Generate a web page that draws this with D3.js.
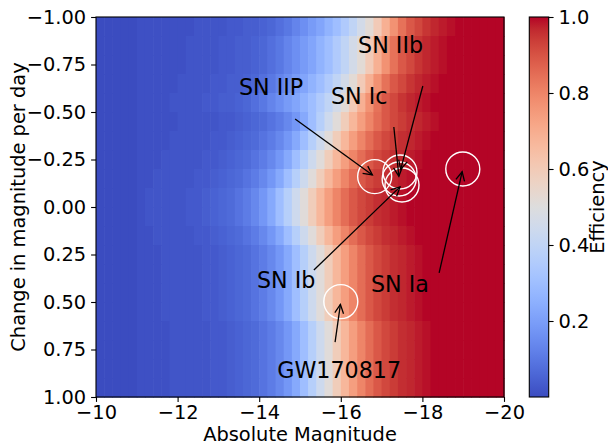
<!DOCTYPE html>
<html><head><meta charset="utf-8">
<script src="https://cdn.jsdelivr.net/npm/d3@7"></script>
<style>body{margin:0;background:#fff}text{font-family:"DejaVu Sans",sans-serif;fill:#000}</style>
</head><body><svg id="c" width="608" height="443"></svg>
<script>
// ---------------- data ----------------
const magEdges = [-10,-10.2,-10.4,-10.6,-10.8,-11,-11.2,-11.4,-11.6,-11.8,-12,-12.2,-12.4,-12.6,-12.8,-13,-13.2,-13.4,-13.6,-13.8,-14,-14.2,-14.4,-14.6,-14.8,-15,-15.2,-15.4,-15.6,-15.8,-16,-16.2,-16.4,-16.6,-16.8,-17,-17.2,-17.4,-17.6,-17.8,-18,-18.2,-18.4,-18.6,-18.8,-19,-19.2,-19.4,-19.6,-19.8,-20];
const rateEdges = [-1,-0.9,-0.8,-0.7,-0.6,-0.5,-0.4,-0.3,-0.2,-0.1,0,0.1,0.2,0.3,0.4,0.5,0.6,0.7,0.8,0.9,1];
const efficiency = [
[0,0,0,0,0,0.01,0.01,0.01,0.01,0.01,0.01,0.01,0.02,0.02,0.02,0.02,0.03,0.03,0.04,0.04,0.05,0.06,0.08,0.1,0.13,0.16,0.19,0.22,0.26,0.3,0.35,0.4,0.46,0.52,0.6,0.69,0.77,0.84,0.89,0.92,0.95,0.97,0.98,0.99,1,1,1,1,1,1],
[0,0,0,0,0,0.01,0.01,0.01,0.01,0.01,0.01,0.02,0.02,0.02,0.02,0.03,0.03,0.04,0.04,0.05,0.06,0.08,0.1,0.13,0.16,0.19,0.22,0.26,0.3,0.35,0.4,0.46,0.52,0.6,0.69,0.77,0.84,0.89,0.92,0.95,0.97,0.98,0.99,1,1,1,1,1,1,1],
[0,0,0,0,0,0.01,0.01,0.01,0.01,0.01,0.01,0.02,0.02,0.02,0.02,0.03,0.03,0.04,0.04,0.05,0.06,0.08,0.1,0.13,0.16,0.19,0.22,0.26,0.3,0.35,0.4,0.46,0.52,0.6,0.69,0.77,0.84,0.89,0.92,0.95,0.97,0.98,0.99,1,1,1,1,1,1,1],
[0,0,0,0,0,0.01,0.01,0.01,0.01,0.01,0.02,0.02,0.02,0.02,0.03,0.03,0.04,0.04,0.05,0.06,0.08,0.1,0.13,0.16,0.19,0.22,0.26,0.3,0.35,0.4,0.46,0.52,0.6,0.69,0.77,0.84,0.89,0.92,0.95,0.97,0.98,0.99,1,1,1,1,1,1,1,1],
[0,0,0,0,0,0.01,0.01,0.01,0.01,0.02,0.02,0.02,0.02,0.03,0.03,0.04,0.04,0.05,0.06,0.08,0.1,0.13,0.16,0.19,0.22,0.26,0.3,0.35,0.4,0.46,0.52,0.6,0.69,0.77,0.84,0.89,0.92,0.95,0.97,0.98,0.99,1,1,1,1,1,1,1,1,1],
[0,0,0,0,0,0.01,0.01,0.01,0.01,0.01,0.02,0.02,0.02,0.02,0.02,0.03,0.03,0.04,0.05,0.06,0.07,0.09,0.11,0.14,0.18,0.23,0.3,0.37,0.44,0.51,0.59,0.67,0.74,0.8,0.85,0.89,0.92,0.94,0.96,0.97,0.98,0.99,1,1,1,1,1,1,1,1],
[0,0,0,0,0,0.01,0.01,0.01,0.01,0.02,0.02,0.02,0.02,0.02,0.03,0.03,0.04,0.05,0.06,0.07,0.09,0.11,0.14,0.18,0.23,0.3,0.37,0.44,0.51,0.59,0.67,0.74,0.8,0.85,0.89,0.92,0.94,0.96,0.97,0.98,0.99,1,1,1,1,1,1,1,1,1],
[0,0,0,0,0,0.01,0.01,0.01,0.02,0.02,0.02,0.02,0.02,0.03,0.03,0.04,0.05,0.06,0.07,0.09,0.11,0.14,0.18,0.23,0.3,0.37,0.44,0.51,0.59,0.67,0.74,0.8,0.85,0.89,0.92,0.94,0.96,0.97,0.98,0.99,1,1,1,1,1,1,1,1,1,1],
[0,0,0,0,0,0.01,0.01,0.02,0.02,0.02,0.02,0.02,0.03,0.03,0.04,0.05,0.06,0.07,0.09,0.11,0.14,0.18,0.23,0.3,0.37,0.44,0.51,0.59,0.67,0.74,0.8,0.85,0.89,0.92,0.94,0.96,0.97,0.98,0.99,1,1,1,1,1,1,1,1,1,1,1],
[0,0,0,0,0,0.01,0.02,0.02,0.02,0.02,0.02,0.03,0.03,0.04,0.05,0.06,0.07,0.09,0.11,0.14,0.18,0.23,0.3,0.37,0.44,0.51,0.59,0.67,0.74,0.8,0.85,0.89,0.92,0.94,0.96,0.97,0.98,0.99,1,1,1,1,1,1,1,1,1,1,1,1],
[0,0,0,0,0,0.01,0.02,0.02,0.02,0.02,0.02,0.03,0.03,0.04,0.05,0.06,0.07,0.09,0.11,0.14,0.18,0.23,0.3,0.37,0.44,0.51,0.59,0.67,0.74,0.8,0.85,0.89,0.92,0.94,0.96,0.97,0.98,0.99,1,1,1,1,1,1,1,1,1,1,1,1],
[0,0,0,0,0,0.01,0.01,0.02,0.02,0.02,0.02,0.02,0.03,0.03,0.04,0.05,0.06,0.07,0.09,0.11,0.14,0.18,0.23,0.3,0.37,0.44,0.51,0.59,0.67,0.74,0.8,0.85,0.89,0.92,0.94,0.96,0.97,0.98,0.99,1,1,1,1,1,1,1,1,1,1,1],
[0,0,0,0,0,0.01,0.01,0.01,0.02,0.02,0.02,0.02,0.02,0.03,0.03,0.04,0.05,0.06,0.07,0.09,0.11,0.14,0.18,0.23,0.3,0.37,0.44,0.51,0.59,0.67,0.74,0.8,0.85,0.89,0.92,0.94,0.96,0.97,0.98,0.99,1,1,1,1,1,1,1,1,1,1],
[0,0,0,0,0,0.01,0.01,0.01,0.02,0.02,0.02,0.02,0.02,0.03,0.03,0.04,0.05,0.06,0.07,0.09,0.11,0.14,0.18,0.23,0.3,0.37,0.44,0.51,0.59,0.67,0.74,0.8,0.85,0.89,0.92,0.94,0.96,0.97,0.98,0.99,1,1,1,1,1,1,1,1,1,1],
[0,0,0,0,0,0.01,0.01,0.01,0.02,0.02,0.02,0.02,0.02,0.03,0.03,0.04,0.05,0.06,0.07,0.09,0.11,0.14,0.18,0.23,0.3,0.37,0.44,0.51,0.59,0.67,0.74,0.8,0.85,0.89,0.92,0.94,0.96,0.97,0.98,0.99,1,1,1,1,1,1,1,1,1,1],
[0,0,0,0,0,0.01,0.01,0.01,0.02,0.02,0.02,0.02,0.02,0.03,0.03,0.04,0.05,0.06,0.07,0.09,0.11,0.14,0.18,0.23,0.3,0.37,0.44,0.51,0.59,0.67,0.74,0.8,0.85,0.89,0.92,0.94,0.96,0.97,0.98,0.99,1,1,1,1,1,1,1,1,1,1],
[0,0,0,0,0,0.01,0.01,0.01,0.01,0.02,0.02,0.02,0.02,0.02,0.03,0.03,0.04,0.05,0.06,0.07,0.09,0.11,0.14,0.18,0.23,0.3,0.37,0.44,0.51,0.59,0.67,0.74,0.8,0.85,0.89,0.92,0.94,0.96,0.97,0.98,0.99,1,1,1,1,1,1,1,1,1],
[0,0,0,0,0,0.01,0.01,0.01,0.01,0.02,0.02,0.02,0.02,0.02,0.03,0.03,0.04,0.05,0.06,0.07,0.09,0.11,0.14,0.18,0.23,0.3,0.37,0.44,0.51,0.59,0.67,0.74,0.8,0.85,0.89,0.92,0.94,0.96,0.97,0.98,0.99,1,1,1,1,1,1,1,1,1],
[0,0,0,0,0,0.01,0.01,0.01,0.01,0.02,0.02,0.02,0.02,0.02,0.03,0.03,0.04,0.05,0.06,0.07,0.09,0.11,0.14,0.18,0.23,0.3,0.37,0.44,0.51,0.59,0.67,0.74,0.8,0.85,0.89,0.92,0.94,0.96,0.97,0.98,0.99,1,1,1,1,1,1,1,1,1],
[0,0,0,0,0,0.01,0.01,0.01,0.01,0.02,0.02,0.02,0.02,0.02,0.03,0.03,0.04,0.05,0.06,0.07,0.09,0.11,0.14,0.18,0.23,0.3,0.37,0.44,0.51,0.59,0.67,0.74,0.8,0.85,0.89,0.92,0.94,0.96,0.97,0.98,0.99,1,1,1,1,1,1,1,1,1]
];
const xTicks = [-10,-12,-14,-16,-18,-20];
const yTicks = [-1,-0.75,-0.5,-0.25,0,0.25,0.5,0.75,1];
const cbTicks = [0.2,0.4,0.6,0.8,1.0];

const eventNames   = ["SN IIP","SN IIb","SN Ic","SN Ib","SN Ia","GW170817"];
const eventMag     = [-16.83,-17.45,-17.43,-17.5,-18.99,-16.0];
const eventRate    = [-0.16,-0.184,-0.147,-0.116,-0.2,0.498];
const labelMag     = [-14.29,-17.22,-16.45,-14.66,-17.45,-15.96];
const labelRate    = [-0.632,-0.853,-0.584,0.384,0.405,0.858];
const arrowFromMag = [-14.88,-18.01,-17.30,-15.34,-18.41,-15.86];
const arrowFromRate= [-0.463,-0.637,-0.421,0.332,0.347,0.711];

// --------------- coolwarm colormap stops ---------------
const cwStops = [[59,76,192],[68,90,204],[77,104,215],[87,117,225],[98,130,234],[108,142,241],[119,154,247],[130,165,251],[141,176,254],[152,185,255],[163,194,255],[174,201,253],[184,208,249],[194,213,244],[204,217,238],[213,219,230],[221,221,221],[229,216,209],[236,211,197],[241,204,185],[245,196,173],[247,187,160],[247,177,148],[247,166,135],[244,154,123],[241,141,111],[236,127,99],[229,112,88],[222,96,77],[213,80,66],[203,62,56],[192,40,47],[180,4,38]];
const cw = d3.scaleLinear().domain(cwStops.map((d,i)=>i/(cwStops.length-1))).range(cwStops.map(c=>`rgb(${c[0]},${c[1]},${c[2]})`)).clamp(true);

const all = efficiency.flat();
const vmin = d3.min(all), vmax = d3.max(all);
const norm = d3.scaleLinear().domain([vmin,vmax]).range([0,1]);
const color = v => cw(norm(v));

const svg = d3.select("#c");
const L=96,R=504,T=17,B=397;
const x = d3.scaleLinear().domain([-10,-20]).range([L,R]);
const y = d3.scaleLinear().domain([-1,1]).range([T,B]);
const fs = 19.4;

// heatmap cells
const cells=[];
efficiency.forEach((row,j)=>row.forEach((v,i)=>cells.push({i,j,v})));
svg.append("g").selectAll("rect").data(cells).join("rect")
  .attr("x",d=>x(magEdges[d.i]))
  .attr("y",d=>y(rateEdges[d.j]))
  .attr("width",d=>x(magEdges[d.i+1])-x(magEdges[d.i])+0.6)
  .attr("height",d=>y(rateEdges[d.j+1])-y(rateEdges[d.j])+0.6)
  .attr("fill",d=>color(d.v));

// circles
svg.append("g").selectAll("circle").data(eventNames).join("circle")
  .attr("cx",(d,i)=>x(eventMag[i])).attr("cy",(d,i)=>y(eventRate[i]))
  .attr("r",17).attr("fill","none").attr("stroke","#fff").attr("stroke-width",1.4);

// arrows
const ag = svg.append("g").attr("stroke","#000").attr("stroke-width",1.3).attr("fill","none");
eventNames.forEach((n,i)=>{
  const sx=x(arrowFromMag[i]), sy=y(arrowFromRate[i]);
  let ex=x(eventMag[i]), ey=y(eventRate[i]);
  const dx=ex-sx, dy=ey-sy, len=Math.hypot(dx,dy), ux=dx/len, uy=dy/len;
  ex-=ux*2.8; ey-=uy*2.8;
  ag.append("line").attr("x1",sx).attr("y1",sy).attr("x2",ex).attr("y2",ey);
  const hl=8.9, hw=4.4;
  const bx=ex-ux*hl, by=ey-uy*hl;
  ag.append("path").attr("d",`M${bx-uy*hw},${by+ux*hw}L${ex},${ey}L${bx+uy*hw},${by-ux*hw}`);
});

// labels
svg.append("g").selectAll("text").data(eventNames).join("text")
  .attr("x",(d,i)=>x(labelMag[i])).attr("y",(d,i)=>y(labelRate[i]))
  .attr("dy","0.36em").attr("text-anchor","middle").style("font-size","22.2px").text(d=>d);

// frame
svg.append("rect").attr("x",L).attr("y",T).attr("width",R-L).attr("height",B-T)
  .attr("fill","none").attr("stroke","#000").attr("stroke-width",1.1);

// axes
const fmtX = d3.format(".0f"), fmtY = d3.format(".2f");
const xa = svg.append("g").attr("transform",`translate(0,${B})`)
  .call(d3.axisBottom(x).tickValues(xTicks).tickSize(4.9).tickPadding(3.2).tickFormat(fmtX));
const ya = svg.append("g").attr("transform",`translate(${L},0)`)
  .call(d3.axisLeft(y).tickValues(yTicks).tickSize(4.9).tickPadding(4.9).tickFormat(fmtY));
[xa,ya].forEach(a=>{a.select(".domain").remove();a.selectAll("line").attr("stroke","#000").attr("stroke-width",1.1);
  a.selectAll("text").style("font-size",fs+"px").style("font-family","DejaVu Sans").attr("fill","#000");});

svg.append("text").attr("x",(L+R)/2).attr("y",441).attr("text-anchor","middle").style("font-size",fs+"px").text("Absolute Magnitude");
svg.append("text").attr("transform",`translate(25,${(T+B)/2}) rotate(-90)`).attr("text-anchor","middle").style("font-size",fs+"px").text("Change in magnitude per day");

// colorbar
const CL=529.3, CR=548.7;
const cy = d3.scaleLinear().domain([vmin,vmax]).range([B,T]);
const defs = svg.append("defs");
const grad = defs.append("linearGradient").attr("id","cbg").attr("x1",0).attr("y1",1).attr("x2",0).attr("y2",0);
cwStops.forEach((c,i)=>grad.append("stop").attr("offset",i/(cwStops.length-1)).attr("stop-color",`rgb(${c[0]},${c[1]},${c[2]})`));
svg.append("rect").attr("x",CL).attr("y",T).attr("width",CR-CL).attr("height",B-T).attr("fill","url(#cbg)");
svg.append("rect").attr("x",CL).attr("y",T).attr("width",CR-CL).attr("height",B-T).attr("fill","none").attr("stroke","#000").attr("stroke-width",1.1);
const ca = svg.append("g").attr("transform",`translate(${CR},0)`)
  .call(d3.axisRight(cy).tickValues(cbTicks).tickSize(4.9).tickPadding(4.9).tickFormat(d3.format(".1f")));
ca.select(".domain").remove();
ca.selectAll("line").attr("stroke","#000").attr("stroke-width",1.1);
ca.selectAll("text").style("font-size",fs+"px").style("font-family","DejaVu Sans").attr("fill","#000");
svg.append("text").attr("transform",`translate(604,${(T+B)/2}) rotate(-90)`).attr("text-anchor","middle").style("font-size",fs+"px").text("Efficiency");
</script></body></html>
